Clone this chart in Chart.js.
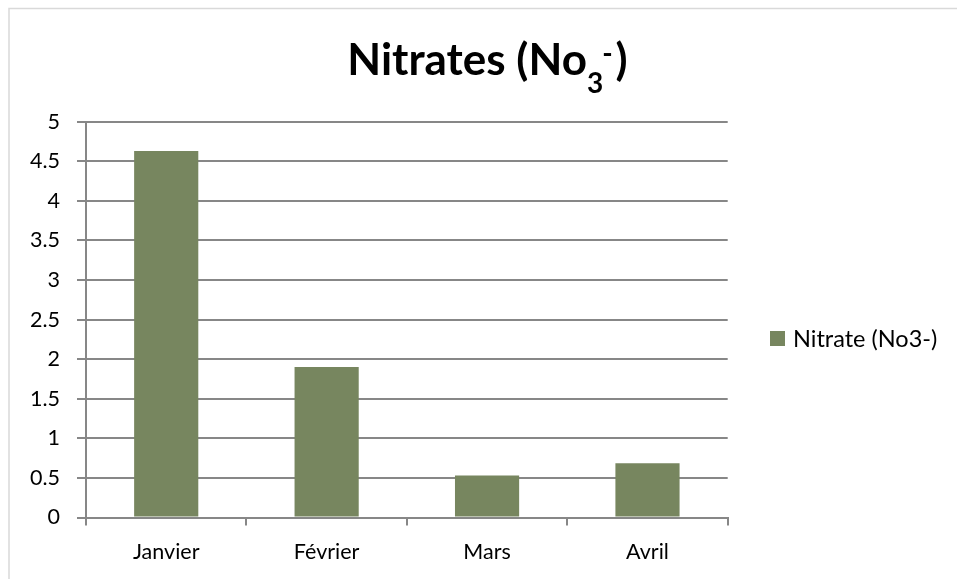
<!DOCTYPE html>
<html>
<head>
<meta charset="utf-8">
<script src="https://cdn.jsdelivr.net/npm/chart.js@4"></script>
<style>
  html, body { margin: 0; padding: 0; background: #ffffff; }
  #wrap { position: relative; width: 957px; height: 579px; }
  canvas { display: block; }
</style>
</head>
<body>
<div id="wrap"><canvas id="c" width="957" height="579"></canvas></div>
<script>
const categories = ['Janvier', 'Février', 'Mars', 'Avril'];
const nitrateValues = [4.63, 1.9, 0.53, 0.685];
const seriesLabel = 'Nitrate (No3-)';
const yTicks = [0, 0.5, 1, 1.5, 2, 2.5, 3, 3.5, 4, 4.5, 5];
const yTickLabels = ['0', '0.5', '1', '1.5', '2', '2.5', '3', '3.5', '4', '4.5', '5'];

const BAR = '#77865f';
const GRID = '#878787';
const FONT = 'Lato, "Open Sans", sans-serif';

const decorations = {
  id: 'decorations',
  beforeDraw(chart) {
    const ctx = chart.ctx;
    ctx.save();
    ctx.fillStyle = '#ffffff';
    ctx.fillRect(0, 0, chart.width, chart.height);
    ctx.strokeStyle = '#d9d9d9';
    ctx.lineWidth = 1.5;
    ctx.beginPath();
    ctx.moveTo(9, chart.height + 5);
    ctx.lineTo(9, 8.5);
    ctx.lineTo(chart.width + 5, 8.5);
    ctx.stroke();
    ctx.restore();
  },
  afterDraw(chart) {
    const ctx = chart.ctx;
    ctx.save();
    // Title: Nitrates (No3-) with subscript 3 and superscript -
    const big = 'bold 44px ' + FONT;
    const small = 'bold 28px ' + FONT;
    ctx.fillStyle = '#000000';
    ctx.textBaseline = 'alphabetic';
    ctx.textAlign = 'left';
    const p1 = 'Nitrates (No';
    const p2 = '3';
    const p3 = '-';
    const p4 = ')';
    ctx.font = big; const w1 = ctx.measureText(p1).width; const w4 = ctx.measureText(p4).width;
    ctx.font = small; const w2 = ctx.measureText(p2).width; const w3 = ctx.measureText(p3).width;
    const total = w1 + w2 + w3 + w4 + 2;
    let x = 487.5 - total / 2;
    const base = 75;
    ctx.font = big; ctx.fillText(p1, x, base); x += w1;
    ctx.font = small; ctx.fillText(p2, x, base + 18);
    ctx.fillText(p3, x + w2 - 1, base - 12); x += w2 + w3 + 2;
    ctx.font = big; ctx.fillText(p4, x, base);

    // Legend
    ctx.fillStyle = BAR;
    ctx.fillRect(770, 331, 15, 15);
    ctx.fillStyle = '#000000';
    ctx.font = '23.5px ' + FONT;
    ctx.textBaseline = 'middle';
    ctx.fillText(seriesLabel, 793, 339);
    ctx.restore();
  }
};

new Chart(document.getElementById('c'), {
  type: 'bar',
  data: {
    labels: categories,
    datasets: [{
      label: seriesLabel,
      data: nitrateValues,
      backgroundColor: BAR,
      borderWidth: 0,
      categoryPercentage: 1.0,
      barPercentage: 0.4
    }]
  },
  plugins: [decorations],
  options: {
    responsive: false,
    animation: false,
    devicePixelRatio: 1,
    layout: { padding: { left: 0, right: 229.3, top: 121.7, bottom: 0 } },
    plugins: {
      legend: { display: false },
      title: { display: false },
      tooltip: { enabled: false }
    },
    scales: {
      x: {
        offset: true,
        grid: { display: true, drawOnChartArea: false, drawTicks: true, tickLength: 8, offset: true, color: GRID, lineWidth: 2 },
        border: { display: true, color: GRID, width: 2 },
        ticks: { color: '#000000', font: { family: FONT, size: 21.5 }, padding: 14 },
        afterFit(scale) { scale.height = 61.5; }
      },
      y: {
        min: 0,
        max: 5,
        afterBuildTicks(scale) { scale.ticks = yTicks.map(v => ({ value: v })); },
        grid: { display: true, drawOnChartArea: true, drawTicks: true, tickLength: 9, color: GRID, lineWidth: 2 },
        border: { display: true, color: GRID, width: 2 },
        ticks: {
          color: '#000000',
          font: { family: FONT, size: 21.5 },
          padding: 17,
          callback: (v) => { const i = yTicks.indexOf(v); return i >= 0 ? yTickLabels[i] : ''; }
        },
        afterFit(scale) { scale.width = 86; }
      }
    }
  }
});
</script>
</body>
</html>
